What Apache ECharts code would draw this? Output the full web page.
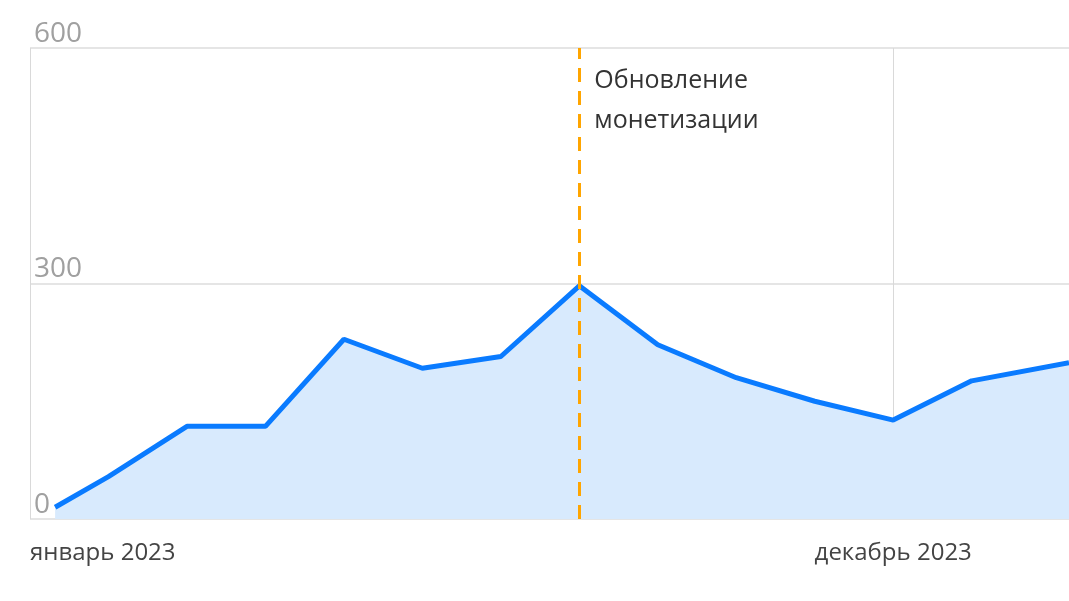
<!DOCTYPE html>
<html>
<head>
<meta charset="utf-8">
<script src="https://cdn.jsdelivr.net/npm/echarts@6/dist/echarts.min.js"></script>
<style>html,body{margin:0;padding:0;background:#fff}#main{width:1069px;height:601px}</style>
</head>
<body>
<div id="main"></div>
<script>
// month index (0 = январь 2023) and value
var months = [0.32, 1, 2, 3, 4, 5, 6, 7, 8, 9, 10, 11, 12, 13.24];
var values = [15, 54, 118, 118, 229, 192, 207, 297, 222, 180, 150, 126, 176, 199];
var monthLabels = {0: 'январь 2023', 11: 'декабрь 2023'};
var eventMonth = 7;
var eventLabel = 'Обновление\nмонетизации';

var myChart = echarts.init(document.getElementById('main'));
option = {
    backgroundColor: '#fff',
    animation: false,
    grid: { left: 30, right: 0, top: 48, bottom: 82 },
    xAxis: {
        type: 'value',
        min: 0,
        max: 13.24,
        interval: 11,
        axisLine: { show: false },
        axisTick: { show: false },
        splitLine: { show: true, lineStyle: { color: '#d9d9d9', width: 1 } },
        axisLabel: {
            color: '#444',
            fontSize: 24,
            fontFamily: 'Open Sans',
            margin: 22,
            alignMinLabel: 'left',
            showMaxLabel: false,
            formatter: function (v) { return monthLabels[v] || ''; }
        }
    },
    yAxis: {
        type: 'value',
        min: 0,
        max: 600,
        interval: 300,
        axisLine: { show: false },
        axisTick: { show: false },
        splitLine: { lineStyle: { color: '#dcdcdc', width: 1.5 } },
        axisLabel: {
            inside: true,
            verticalAlign: 'bottom',
            color: '#a0a0a0',
            fontSize: 28,
            fontFamily: 'Open Sans',
            margin: 4
        }
    },
    series: [{
        type: 'line',
        data: months.map(function (m, i) { return [m, values[i]]; }),
        showSymbol: false,
        lineStyle: { color: '#0a7bff', width: 5 },
        areaStyle: { color: '#d8eafd', opacity: 1 },
        markLine: {
            symbol: 'none',
            silent: true,
            lineStyle: { color: '#ffa500', type: [14, 9], width: 3 },
            label: {
                position: 'insideEndBottom',
                formatter: eventLabel,
                color: '#333',
                fontSize: 25,
                fontFamily: 'Open Sans',
                lineHeight: 40,
                align: 'left',
                rotate: 0,
                offset: [20, 8]
            },
            data: [{ xAxis: eventMonth }]
        }
    }]
};
myChart.setOption(option);
</script>
</body>
</html>
